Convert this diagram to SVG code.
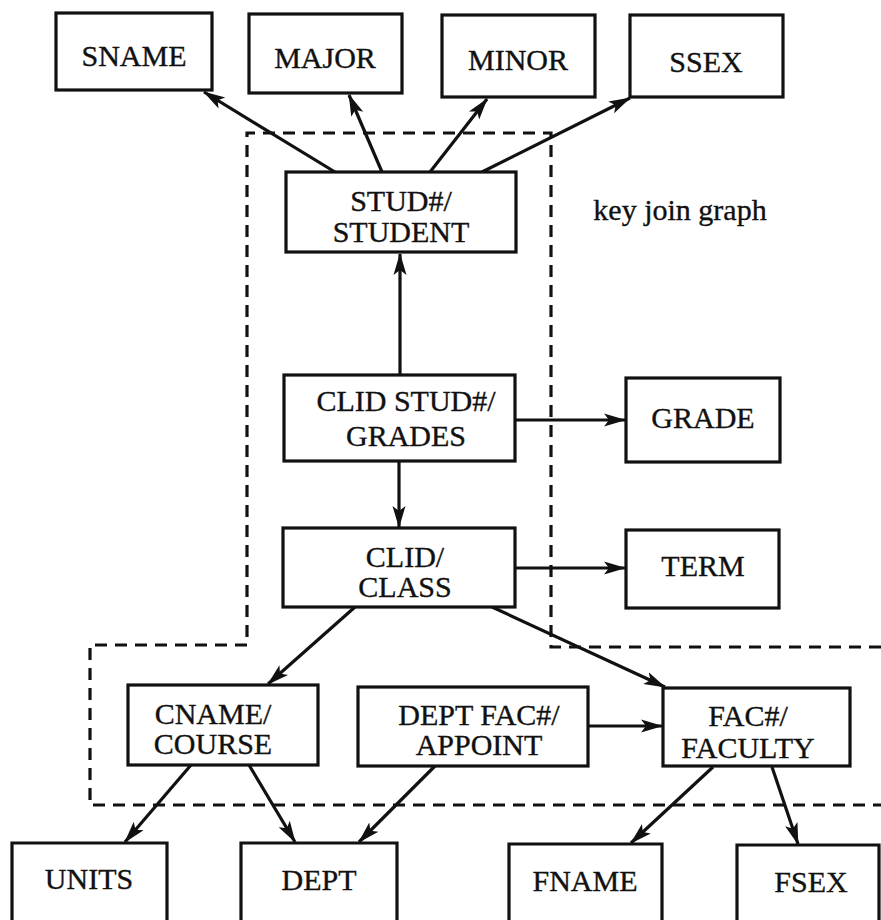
<svg xmlns="http://www.w3.org/2000/svg" width="881" height="920" viewBox="0 0 881 920">
  <style>
    .box { fill: #fff; stroke: #111; stroke-width: 3.2; }
    .lbl { font-family: "Liberation Serif", "Times New Roman", serif; font-size: 30px; fill: #111; stroke: #111; stroke-width: 0.35; text-anchor: middle; }
    .edge { fill: none; stroke: #111; stroke-width: 3.2; marker-end: url(#arrow); }
    .region { fill: none; stroke: #111; stroke-width: 3.2; stroke-dasharray: 12 8; }
  </style>
  <defs>
    <marker id="arrow" markerUnits="userSpaceOnUse" markerWidth="24" markerHeight="16" refX="21" refY="8" orient="auto">
      <path d="M0,1.5 L22,8 L0,14.5 L5,8 z" fill="#111"/>
    </marker>
  </defs>
  <rect width="881" height="920" fill="#fff"/>

  <!-- key join graph region -->
  <path class="region" d="M881,647 H551 V133 H247 V645 H90 V805 H881"/>
  <text class="lbl" x="680" y="220" font-size="29">key join graph</text>

  <!-- connectors -->
  <g id="connectors">
    <line class="edge" x1="335" y1="172" x2="204" y2="92"/>
    <line class="edge" x1="382" y1="172" x2="349" y2="95"/>
    <line class="edge" x1="430" y1="172" x2="487" y2="99"/>
    <line class="edge" x1="482" y1="172" x2="630" y2="98"/>
    <line class="edge" x1="400" y1="375" x2="400" y2="254"/>
    <line class="edge" x1="515" y1="420" x2="625" y2="420"/>
    <line class="edge" x1="399" y1="461" x2="399" y2="527"/>
    <line class="edge" x1="515" y1="568" x2="625" y2="568"/>
    <line class="edge" x1="355" y1="607" x2="268" y2="684"/>
    <line class="edge" x1="492" y1="607" x2="665" y2="687"/>
    <line class="edge" x1="588" y1="726" x2="662" y2="726"/>
    <line class="edge" x1="191" y1="765" x2="125" y2="842"/>
    <line class="edge" x1="249" y1="765" x2="295" y2="842"/>
    <line class="edge" x1="435" y1="766" x2="359" y2="842"/>
    <line class="edge" x1="713" y1="767" x2="631" y2="843"/>
    <line class="edge" x1="772" y1="767" x2="798" y2="844"/>
  </g>

  <!-- attribute nodes -->
  <g id="sname"><rect class="box" x="56" y="13" width="156" height="77"/><text class="lbl" x="134" y="66">SNAME</text></g>
  <g id="major"><rect class="box" x="249" y="14" width="153" height="79"/><text class="lbl" x="325" y="68">MAJOR</text></g>
  <g id="minor"><rect class="box" x="442" y="15" width="153" height="82"/><text class="lbl" x="518" y="70">MINOR</text></g>
  <g id="ssex"><rect class="box" x="630" y="15" width="153" height="82"/><text class="lbl" x="706" y="72">SSEX</text></g>

  <!-- relation nodes -->
  <g id="student"><rect class="box" x="286" y="172" width="230" height="80"/><text class="lbl" x="401" y="211">STUD#/</text><text class="lbl" x="401" y="242">STUDENT</text></g>
  <g id="grades"><rect class="box" x="284" y="375" width="231" height="86"/><text class="lbl" x="406" y="411">CLID STUD#/</text><text class="lbl" x="406" y="446">GRADES</text></g>
  <g id="grade"><rect class="box" x="626" y="378" width="154" height="84"/><text class="lbl" x="703" y="428">GRADE</text></g>
  <g id="class"><rect class="box" x="283" y="528" width="232" height="79"/><text class="lbl" x="405" y="567">CLID/</text><text class="lbl" x="405" y="597">CLASS</text></g>
  <g id="term"><rect class="box" x="626" y="530" width="153" height="78"/><text class="lbl" x="703" y="576">TERM</text></g>
  <g id="course"><rect class="box" x="128" y="685" width="190" height="80"/><text class="lbl" x="213" y="724">CNAME/</text><text class="lbl" x="213" y="754">COURSE</text></g>
  <g id="appoint"><rect class="box" x="358" y="687" width="230" height="79"/><text class="lbl" x="479" y="725">DEPT FAC#/</text><text class="lbl" x="479" y="755">APPOINT</text></g>
  <g id="faculty"><rect class="box" x="663" y="688" width="187" height="78"/><text class="lbl" x="748" y="726" font-size="28">FAC#/</text><text class="lbl" x="748" y="758" font-size="28">FACULTY</text></g>

  <!-- bottom attribute nodes -->
  <g id="units"><path class="box" d="M12,925 V843 H167 V925"/><text class="lbl" x="89" y="889">UNITS</text></g>
  <g id="dept"><path class="box" d="M241,925 V843 H397 V925"/><text class="lbl" x="319" y="890">DEPT</text></g>
  <g id="fname"><path class="box" d="M509,925 V844 H662 V925"/><text class="lbl" x="585" y="891">FNAME</text></g>
  <g id="fsex"><path class="box" d="M737,925 V845 H879 V925"/><text class="lbl" x="811" y="892">FSEX</text></g>
</svg>
